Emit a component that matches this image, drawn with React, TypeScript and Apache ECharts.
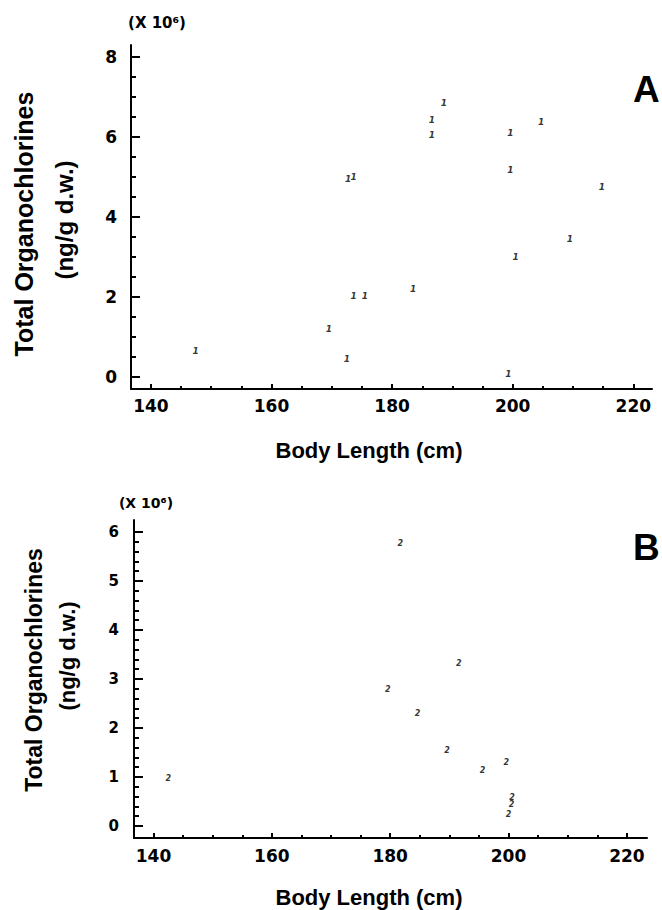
import React, { useEffect, useRef } from "react";
import * as echarts from "echarts";

// Panel A (symbol "1")
const lengthA = [147.4, 169.5, 172.5, 173.6, 175.5, 183.5, 199.3, 200.5, 209.5, 214.8, 172.7, 173.6, 199.6, 199.6, 186.6, 186.6, 188.6, 204.7];
const ocA = [0.64, 1.2, 0.44, 2.02, 2.02, 2.21, 0.08, 3.0, 3.45, 4.76, 4.95, 5.0, 5.18, 6.1, 6.06, 6.43, 6.86, 6.38];

// Panel B (symbol "2")
const lengthB = [142.5, 179.6, 184.6, 189.6, 195.6, 199.6, 200.6, 200.5, 200.0, 181.7, 191.6];
const ocB = [0.97, 2.78, 2.29, 1.55, 1.14, 1.29, 0.58, 0.43, 0.24, 5.76, 3.32];

const xMajor = [140, 160, 180, 200, 220];
const xMinor = [145, 150, 155, 165, 170, 175, 185, 190, 195, 205, 210, 215];
const yMajorA = [0, 2, 4, 6, 8];
const yMinorA = [0.5, 1, 1.5, 2.5, 3, 3.5, 4.5, 5, 5.5, 6.5, 7, 7.5];
const yMajorB = [0, 1, 2, 3, 4, 5, 6];
const yMinorB = [0.2, 0.4, 0.6, 0.8, 1.2, 1.4, 1.6, 1.8, 2.2, 2.4, 2.6, 2.8, 3.2, 3.4, 3.6, 3.8, 4.2, 4.4, 4.6, 4.8, 5.2, 5.4, 5.6, 5.8];

const BLACK = "#000";

function majorX(grid: number, min: number, max: number, fs: number, margin: number) {
  return {
    gridIndex: grid, type: "value", position: "bottom", offset: 0, min, max,
    axisLine: { show: true, onZero: false, lineStyle: { color: BLACK, width: 2 } },
    axisTick: { show: true, inside: true, length: 5, lineStyle: { color: BLACK, width: 2 }, customValues: xMajor },
    axisLabel: { show: true, customValues: xMajor, margin, color: BLACK, fontFamily: "DejaVu Sans", fontWeight: "bold", fontSize: fs },
    splitLine: { show: false },
  };
}
function minorX(grid: number, min: number, max: number) {
  return {
    gridIndex: grid, type: "value", position: "bottom", offset: 0, min, max,
    axisLine: { show: false, onZero: false },
    axisTick: { show: true, inside: true, length: 3, lineStyle: { color: BLACK, width: 2 }, customValues: xMinor },
    axisLabel: { show: false },
    splitLine: { show: false },
  };
}
function majorY(grid: number, min: number, max: number, ticks: number[], fs: number, margin: number) {
  return {
    gridIndex: grid, type: "value", position: "left", offset: 0, min, max,
    axisLine: { show: true, onZero: false, lineStyle: { color: BLACK, width: 2 } },
    axisTick: { show: true, inside: true, length: 9, lineStyle: { color: BLACK, width: 2 }, customValues: ticks },
    axisLabel: { show: true, inside: false, customValues: ticks, margin, color: BLACK, fontFamily: "DejaVu Sans", fontWeight: "bold", fontSize: fs },
    splitLine: { show: false },
  };
}
function minorY(grid: number, min: number, max: number, ticks: number[]) {
  return {
    gridIndex: grid, type: "value", position: "left", offset: 0, min, max,
    axisLine: { show: false, onZero: false },
    axisTick: { show: true, inside: true, length: 5, lineStyle: { color: BLACK, width: 2 }, customValues: ticks },
    axisLabel: { show: false },
    splitLine: { show: false },
  };
}

function rotText(x: number, y: number, text: string, size: number) {
  return {
    type: "text", x, y, rotation: Math.PI / 2,
    style: { text, fill: BLACK, font: `bold ${size}px "Liberation Sans", Arial, sans-serif`, textAlign: "center", textVerticalAlign: "middle" },
  };
}
function plainText(x: number, y: number, text: string, size: number, align: string, family = '"Liberation Sans", Arial, sans-serif') {
  return {
    type: "text", x, y,
    style: { text, fill: BLACK, font: `bold ${size}px ${family}`, textAlign: align, textVerticalAlign: "middle" },
  };
}

export default function App() {
  const ref = useRef<HTMLDivElement>(null);
  useEffect(() => {
    if (!ref.current) return;
    const chart = echarts.init(ref.current, undefined, { renderer: "svg" });
    const marker = (t: string, fs: number) => ({
      show: true, position: "inside", formatter: t, color: BLACK,
      fontFamily: "DejaVu Sans", fontWeight: "bold", fontStyle: "italic", fontSize: fs, lineHeight: 6,
    });
    chart.setOption({
      animation: false,
      backgroundColor: "#fff",
      grid: [
        { left: 131, top: 45, width: 521, height: 344, containLabel: false, outerBoundsMode: "none" },
        { left: 134, top: 520, width: 513, height: 318, containLabel: false, outerBoundsMode: "none" },
      ],
      xAxis: [
        majorX(0, 136.7, 223.1, 17, 8),
        minorX(0, 136.7, 223.1),
        majorX(1, 136.7, 223.4, 17, 9),
        minorX(1, 136.7, 223.4),
      ],
      yAxis: [
        majorY(0, -0.3, 8.3, yMajorA, 17, 14),
        minorY(0, -0.3, 8.3, yMinorA),
        majorY(1, -0.245, 6.245, yMajorB, 15, 15),
        minorY(1, -0.245, 6.245, yMinorB),
      ],
      series: [
        {
          type: "scatter", xAxisIndex: 0, yAxisIndex: 0,
          symbol: "circle", symbolSize: 1, itemStyle: { color: "rgba(0,0,0,0)" },
          label: marker("1", 9),
          data: lengthA.map((x, i) => [x, ocA[i]]),
        },
        {
          type: "scatter", xAxisIndex: 2, yAxisIndex: 2,
          symbol: "circle", symbolSize: 1, itemStyle: { color: "rgba(0,0,0,0)" },
          label: marker("2", 8),
          data: lengthB.map((x, i) => [x, ocB[i]]),
        },
      ],
      graphic: [
        rotText(24, 224, "Total Organochlorines", 25),
        rotText(64, 220, "(ng/g d.w.)", 24),
        rotText(34, 670, "Total Organochlorines", 23),
        rotText(67, 656, "(ng/g d.w.)", 22),
        plainText(157, 23, "(X 10⁶)", 15, "center", '"DejaVu Sans", sans-serif'),
        plainText(146, 503, "(X 10⁶)", 14, "center", '"DejaVu Sans", sans-serif'),
        plainText(369, 450, "Body Length (cm)", 22, "center"),
        plainText(369, 897, "Body Length (cm)", 22, "center"),
        plainText(633, 89, "A", 37, "left"),
        plainText(633, 547, "B", 37, "left"),
      ],
    });
    return () => chart.dispose();
  }, []);
  return <div ref={ref} style={{ position: "absolute", left: 0, top: 0, width: 662, height: 910 }} />;
}
